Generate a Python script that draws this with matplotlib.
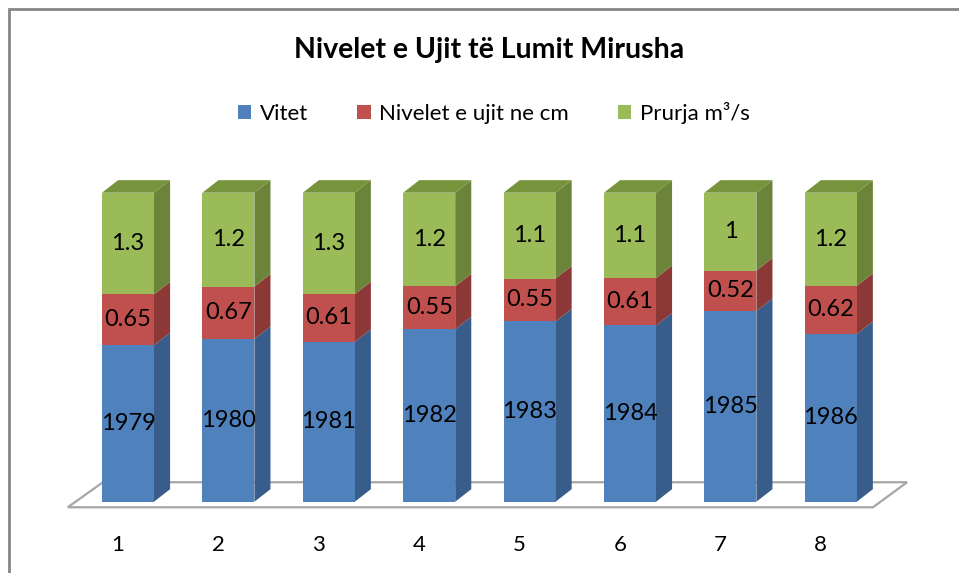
import matplotlib.pyplot as plt
import numpy as np
from matplotlib.patches import Polygon, Rectangle, Patch

# data (100% stacked 3D columns)
categories = ['1', '2', '3', '4', '5', '6', '7', '8']
year_labels = ['1979', '1980', '1981', '1982', '1983', '1984', '1985', '1986']
vitet = [2.00, 2.08, 2.05, 2.21, 2.31, 2.27, 2.45, 2.16]   # hidden value of the blue series
nivelet = [0.65, 0.67, 0.61, 0.55, 0.55, 0.61, 0.52, 0.62]
prurja = [1.3, 1.2, 1.3, 1.2, 1.1, 1.1, 1, 1.2]
series_names = ['Vitet', 'Nivelet e ujit ne cm', 'Prurja m³/s']

front_cols = ['#4F81BD', '#C0504D', '#9BBB59']
side_cols = ['#385D8A', '#8C3836', '#6B8439']
top_col = '#77933C'

plt.rcParams['font.family'] = ['Lato', 'DejaVu Sans']

fig = plt.figure(figsize=(9.59, 5.73), dpi=100)
ax = fig.add_axes([0, 0, 1, 1])
ax.set_xlim(-1.275, 8.277)
ax.set_ylim(-0.2307, 1.6236)
ax.axis('off')

# chart border
fig.patches.append(Rectangle((9 / 959, -0.1), 1.2, 1 - 9 / 573 + 0.1, transform=fig.transFigure,
                             fill=False, edgecolor='#868686', lw=2))

n = len(categories)
x = np.arange(n)
w = 0.518
dx, dy = 0.16, 0.0405

# floor
floor = Polygon([(-0.6, -0.018), (7.42, -0.018), (7.76, 0.063), (-0.25, 0.063)],
                closed=True, facecolor='white', edgecolor='#A6A6A6', lw=1.6, zorder=1)
ax.add_patch(floor)

vals = np.array([vitet, nivelet, prurja])
shares = vals / vals.sum(axis=0)
bottoms = np.vstack([np.zeros(n), np.cumsum(shares, axis=0)[:-1]])

for s in range(3):
    ax.bar(x, shares[s], w, bottom=bottoms[s], color=front_cols[s], zorder=3)
    for i in range(n):
        y0 = bottoms[s][i]
        y1 = y0 + shares[s][i]
        xr = x[i] + w / 2
        ax.add_patch(Polygon([(xr, y0), (xr + dx, y0 + dy), (xr + dx, y1 + dy), (xr, y1)],
                             closed=True, facecolor=side_cols[s], edgecolor='none', zorder=2))
        if s == 2:
            xl = x[i] - w / 2
            ax.add_patch(Polygon([(xl, y1), (xl + dx, y1 + dy), (xr + dx, y1 + dy), (xr, y1)],
                                 closed=True, facecolor=top_col, edgecolor='none', zorder=2))
        if s == 0:
            lab = year_labels[i]
        else:
            lab = f'{vals[s][i]:g}'
        ax.text(x[i], y0 + shares[s][i] / 2, lab, ha='center', va='center',
                fontsize=17, color='black', zorder=4)

for i in range(n):
    ax.text(x[i] - 0.1, -0.14, categories[i], ha='center', va='center', fontsize=16)

fig.text(489 / 959, 1 - 50 / 573, 'Nivelet e Ujit të Lumit Mirusha', ha='center', va='center',
         fontsize=20.5, fontweight='bold')

handles = [Patch(facecolor=c) for c in front_cols]
fig.legend(handles, series_names, loc='center', bbox_to_anchor=(494 / 959, 1 - 113 / 573),
           ncol=3, frameon=False, fontsize=16, handlelength=0.6, handleheight=0.6,
           handletextpad=0.4, columnspacing=2.2)

fig.savefig('out.png', dpi=100)
